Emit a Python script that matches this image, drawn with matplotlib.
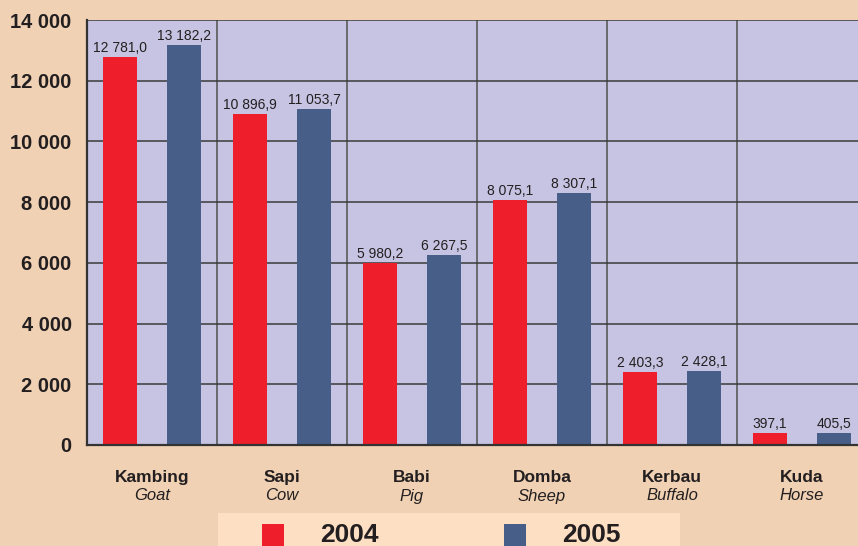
import numpy as np
import matplotlib.pyplot as plt
from matplotlib.patches import Rectangle

plt.rcParams["font.family"] = ["Liberation Sans", "DejaVu Sans"]

animals_id = ["Kambing", "Sapi", "Babi", "Domba", "Kerbau", "Kuda"]
animals_en = ["Goat", "Cow", "Pig", "Sheep", "Buffalo", "Horse"]
values_2004 = [12781.0, 10896.9, 5980.2, 8075.1, 2403.3, 397.1]
values_2005 = [13182.2, 11053.7, 6267.5, 8307.1, 2428.1, 405.5]
years = ["2004", "2005"]
yticks = [0, 2000, 4000, 6000, 8000, 10000, 12000, 14000]

red = "#ee1f2a"
blue = "#465e88"
fig_bg = "#f0d1b4"
plot_bg = "#c7c4e3"
legend_bg = "#fddfc3"
text_col = "#231f20"


def fmt(v, decimals=1):
    s = f"{v:,.{decimals}f}"
    return s.replace(",", " ").replace(".", ",")


fig = plt.figure(figsize=(8.58, 5.46), dpi=100, facecolor=fig_bg)
ax = fig.add_axes([87 / 858, 101 / 546, 780 / 858, 425 / 546])
ax.set_facecolor(plot_bg)

x = np.arange(len(animals_id))
w = 0.262
off = 0.246
b1 = ax.bar(x - off, values_2004, w, color=red, zorder=3)
b2 = ax.bar(x + off, values_2005, w, color=blue, zorder=3)

for bars, vals in ((b1, values_2004), (b2, values_2005)):
    for rect, v in zip(bars, vals):
        ax.annotate(fmt(v), (rect.get_x() + rect.get_width() / 2, v),
                    xytext=(0, 1.5), textcoords="offset points",
                    ha="center", va="bottom", fontsize=10, color=text_col,
                    zorder=4)

ax.set_xlim(-0.5, len(animals_id) - 0.5)
ax.set_ylim(0, 14000)
ax.set_yticks(yticks)
ax.set_yticklabels([fmt(t, 0) for t in yticks], fontsize=14.5,
                   fontweight="bold", color=text_col)
ax.set_xticks(x)
ax.set_xticklabels([])
ax.set_xticks(np.arange(len(animals_id) + 1) - 0.5, minor=True)
ax.tick_params(axis="both", which="both", length=0)
ax.tick_params(axis="y", pad=11)

ax.grid(axis="y", color="#3a3a3a", linewidth=1.1, zorder=1)
ax.grid(axis="x", which="minor", color="#5a5a5a", linewidth=1.2, zorder=1)
ax.grid(axis="x", which="major", visible=False)
ax.set_axisbelow(True)

for side in ("top", "right"):
    ax.spines[side].set_visible(False)
for side in ("left", "bottom"):
    ax.spines[side].set_color("#333333")
    ax.spines[side].set_linewidth(1.6)
    ax.spines[side].set_zorder(5)

tr = ax.get_xaxis_transform()
for i, (a, e) in enumerate(zip(animals_id, animals_en)):
    ax.text(i, -0.077, a, transform=tr, ha="center", va="center",
            fontsize=12.5, fontweight="bold", color=text_col)
    ax.text(i, -0.12, e, transform=tr, ha="center", va="center",
            fontsize=12, style="italic", color=text_col)

# legend strip at the bottom
fig.patches.append(Rectangle((218 / 858, 0), 462 / 858, 33 / 546,
                             transform=fig.transFigure, facecolor=legend_bg,
                             edgecolor="none", zorder=0))
for sx, tx, col, yr in ((262, 320, red, years[0]), (504, 562, blue, years[1])):
    fig.patches.append(Rectangle((sx / 858, 0), 22 / 858, 22 / 546,
                                 transform=fig.transFigure, facecolor=col,
                                 edgecolor="none", zorder=1))
    fig.text(tx / 858, 4 / 546, yr, fontsize=19, fontweight="bold",
             color=text_col, ha="left", va="baseline")

fig.savefig("out.png", dpi=100, facecolor=fig_bg)
